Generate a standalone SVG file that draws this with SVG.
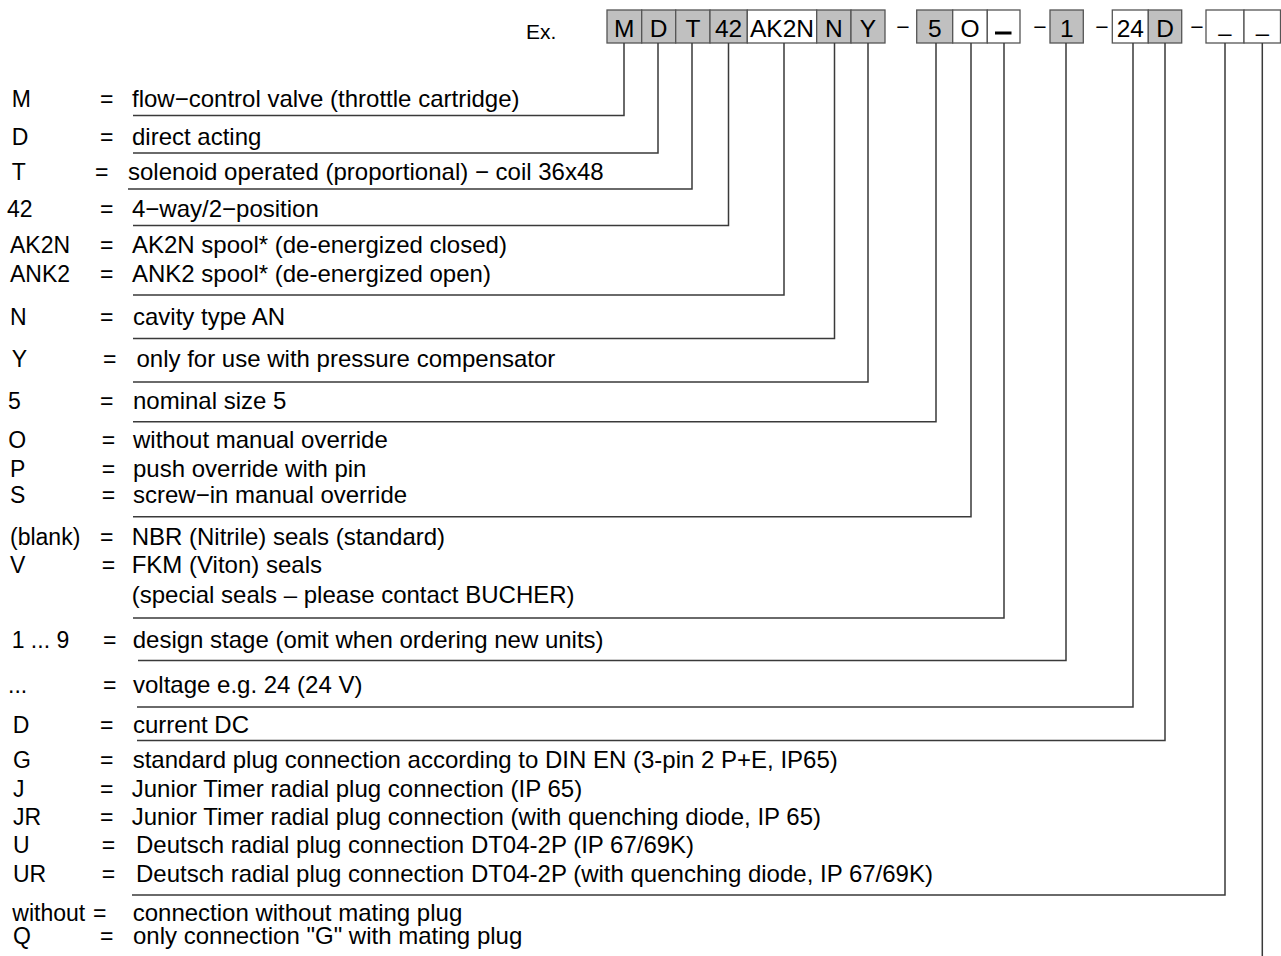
<svg xmlns="http://www.w3.org/2000/svg" width="1281" height="956" viewBox="0 0 1281 956">
<style>
text{font-family:"Liberation Sans",Arial,sans-serif;font-size:23px;fill:#000}
.d{font-size:24px}
.h{font-size:24.5px}
.c{text-anchor:middle}
.g{fill:#c0c0c0;stroke:#555;stroke-width:1.3}
.w{fill:#fff;stroke:#555;stroke-width:1.3}
.ln{fill:none;stroke:#3a3a3a;stroke-width:1.5}
</style>
<rect width="1281" height="956" fill="#fff"/>
<g id="header">
<text x="526" y="39" style="font-size:21px">Ex.</text>
<rect class="g" x="607" y="10" width="34.7" height="33"/><text class="c h" x="624.3" y="37">M</text>
<rect class="g" x="641.7" y="10" width="34" height="33"/><text class="c h" x="658.7" y="37">D</text>
<rect class="g" x="675.7" y="10" width="34.3" height="33"/><text class="c h" x="692.9" y="37">T</text>
<rect class="g" x="710" y="10" width="37.3" height="33"/><text class="c h" x="728.6" y="37">42</text>
<rect class="w" x="747.3" y="10" width="69.4" height="33"/><text class="c h" x="782" y="37">AK2N</text>
<rect class="g" x="816.7" y="10" width="34.3" height="33"/><text class="c h" x="833.9" y="37">N</text>
<rect class="g" x="851" y="10" width="34" height="33"/><text class="c h" x="868" y="37">Y</text>
<text class="c" x="903" y="35">−</text>
<rect class="g" x="916.7" y="10" width="36" height="33"/><text class="c h" x="934.7" y="37">5</text>
<rect class="w" x="952.7" y="10" width="34.6" height="33"/><text class="c h" x="970" y="37">O</text>
<rect class="w" x="987.3" y="10" width="32.7" height="33"/><rect x="995" y="31.5" width="16.5" height="3" fill="#000"/>
<text class="c" x="1040" y="35">−</text>
<rect class="g" x="1050" y="10" width="33.3" height="33"/><text class="c h" x="1066.7" y="37">1</text>
<text class="c" x="1102" y="35">−</text>
<rect class="w" x="1112.3" y="10" width="36" height="33"/><text class="c h" x="1130.3" y="37">24</text>
<rect class="g" x="1148.3" y="10" width="33.4" height="33"/><text class="c h" x="1165" y="37">D</text>
<text class="c" x="1197" y="35">−</text>
<rect class="w" x="1206" y="10" width="38" height="33"/><text class="c" x="1225" y="31">_</text>
<rect class="w" x="1244" y="10" width="36.5" height="33"/><text class="c" x="1262.5" y="31">_</text>
</g>
<g id="connectors" class="ln">
<path d="M624,43 V115.5 H133"/>
<path d="M658,43 V153 H133"/>
<path d="M692,43 V189 H128"/>
<path d="M728.5,43 V225.5 H133"/>
<path d="M784,43 V295 H133"/>
<path d="M834.5,43 V338.5 H133"/>
<path d="M868,43 V382 H133"/>
<path d="M936,43 V421.7 H133"/>
<path d="M971,43 V516.7 H133"/>
<path d="M1004,43 V618 H133"/>
<path d="M1066,43 V660.5 H138"/>
<path d="M1133,43 V707 H137"/>
<path d="M1165,43 V740.5 H137"/>
<path d="M1225,43 V895 H132"/>
<path d="M1262.3,43 V956"/>
</g>
<g id="row-M"><text x="11.7" y="107">M</text><text x="100" y="107">=</text><text class="d" x="132" y="107">flow−control valve (throttle cartridge)</text></g>
<g id="row-D"><text x="11.7" y="145">D</text><text x="100" y="145">=</text><text class="d" x="132" y="145">direct acting</text></g>
<g id="row-T"><text x="11.7" y="180">T</text><text x="95" y="180">=</text><text class="d" x="128" y="180">solenoid operated (proportional) − coil 36x48</text></g>
<g id="row-42"><text x="7" y="216.5">42</text><text x="100" y="216.5">=</text><text class="d" x="132" y="216.5">4−way/2−position</text></g>
<g id="row-spool"><text x="10" y="253">AK2N</text><text x="100" y="253">=</text><text class="d" x="132" y="253">AK2N spool* (de-energized closed)</text>
<text x="10" y="282">ANK2</text><text x="100" y="282">=</text><text class="d" x="132" y="282">ANK2 spool* (de-energized open)</text></g>
<g id="row-N"><text x="10" y="325">N</text><text x="100" y="325">=</text><text class="d" x="133" y="325">cavity type AN</text></g>
<g id="row-Y"><text x="11.7" y="366.5">Y</text><text x="103" y="366.5">=</text><text class="d" x="136.5" y="366.5">only for use with pressure compensator</text></g>
<g id="row-5"><text x="8" y="409">5</text><text x="100" y="409">=</text><text class="d" x="133" y="409">nominal size 5</text></g>
<g id="row-override"><text x="8.3" y="447.5">O</text><text x="101.7" y="447.5">=</text><text class="d" x="133" y="447.5">without manual override</text>
<text x="10" y="476.5">P</text><text x="101.7" y="476.5">=</text><text class="d" x="133" y="476.5">push override with pin</text>
<text x="10" y="503">S</text><text x="101.7" y="503">=</text><text class="d" x="133" y="503">screw−in manual override</text></g>
<g id="row-seals"><text x="10" y="545">(blank)</text><text x="100" y="545">=</text><text class="d" x="131.7" y="545">NBR (Nitrile) seals (standard)</text>
<text x="10" y="573">V</text><text x="101.7" y="573">=</text><text class="d" x="131.7" y="573">FKM (Viton) seals</text>
<text class="d" x="131.7" y="603">(special seals – please contact BUCHER)</text></g>
<g id="row-design"><text x="11.7" y="648">1 ... 9</text><text x="103" y="648">=</text><text class="d" x="132.7" y="648">design stage (omit when ordering new units)</text></g>
<g id="row-voltage"><text x="8" y="693">...</text><text x="103" y="693">=</text><text class="d" x="133" y="693">voltage e.g. 24 (24 V)</text></g>
<g id="row-current"><text x="12.7" y="733">D</text><text x="100" y="733">=</text><text class="d" x="133" y="733">current DC</text></g>
<g id="row-plug"><text x="13" y="768">G</text><text x="100" y="768">=</text><text class="d" x="132.7" y="768">standard plug connection according to DIN EN (3-pin 2 P+E, IP65)</text>
<text x="13" y="796.5">J</text><text x="100" y="796.5">=</text><text class="d" x="131.7" y="796.5">Junior Timer radial plug connection (IP 65)</text>
<text x="13" y="825">JR</text><text x="100" y="825">=</text><text class="d" x="131.7" y="825">Junior Timer radial plug connection (with quenching diode, IP 65)</text>
<text x="13" y="853">U</text><text x="101.7" y="853">=</text><text class="d" x="136" y="853">Deutsch radial plug connection DT04-2P (IP 67/69K)</text>
<text x="13" y="881.5">UR</text><text x="101.7" y="881.5">=</text><text class="d" x="136" y="881.5">Deutsch radial plug connection DT04-2P (with quenching diode, IP 67/69K)</text></g>
<g id="row-mating"><text x="12.3" y="920.5">without</text><text x="93" y="920.5">=</text><text class="d" x="132.7" y="920.5">connection without mating plug</text>
<text x="13" y="944">Q</text><text x="100" y="944">=</text><text class="d" x="133" y="944">only connection "G" with mating plug</text></g>
</svg>
